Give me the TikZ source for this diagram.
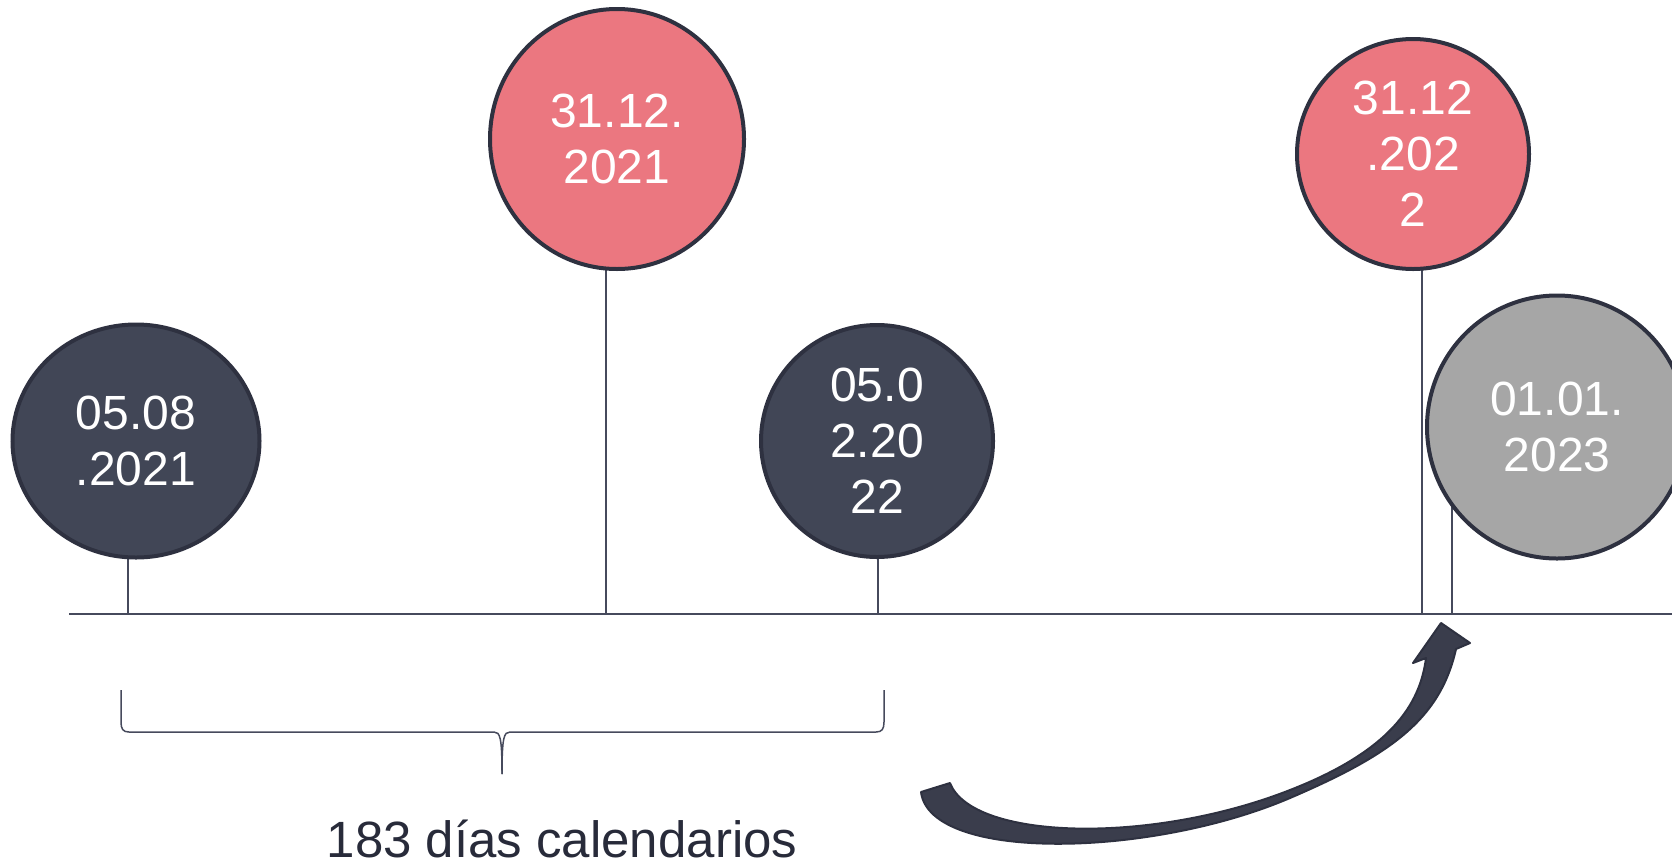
\documentclass[tikz,border=0pt]{standalone}
\usepackage{fontspec}
\setmainfont{Liberation Sans}
\usetikzlibrary{shapes.geometric,backgrounds}
\definecolor{navyfill}{RGB}{65,70,86}
\definecolor{pinkfill}{RGB}{235,119,128}
\definecolor{grayfill}{RGB}{166,166,166}
\definecolor{edgecol}{RGB}{46,49,64}
\definecolor{linecol}{RGB}{70,74,92}
\definecolor{arrowfill}{RGB}{58,61,76}
\definecolor{labelcol}{RGB}{40,43,58}

\begin{document}
\begin{tikzpicture}[x=1pt, y=-1pt,
  datebubble/.style={ellipse, draw=edgecol, line width=4pt, text=white, align=center, inner sep=0pt, font=\fontsize{48}{56}\selectfont},
  stem/.style={draw=linecol, line width=1.5pt}]
	\useasboundingbox (0,0) rectangle (1672,865);
	\clip (0,0) rectangle (1672,865);
	\coordinate (tl-l) at (69,614);
	\coordinate (tl-r) at (1672,614);
	\coordinate (s1) at (128,614);
	\coordinate (s2) at (606,614);
	\coordinate (s3) at (878,614);
	\coordinate (s4) at (1422,614);
	\coordinate (s5) at (1452,614);
	\draw[linecol, line width=2pt] (tl-l) -- (tl-r);
	\node[datebubble, fill=navyfill, minimum width=247, minimum height=233] (d1) at (136,441) {05.08\\.2021};
	\node[datebubble, fill=pinkfill, minimum width=254, minimum height=260] (d2) at (617,139) {31.12.\\2021};
	\node[datebubble, fill=navyfill, minimum width=232, minimum height=232] (d3) at (877,441) {05.0\\2.20\\22};
	\node[datebubble, fill=pinkfill, minimum width=232, minimum height=230] (d4) at (1413,154) {31.12\\.202\\2};
	\node[datebubble, fill=grayfill, minimum width=260, minimum height=263] (d5) at (1557,427) {01.01.\\2023};
	\begin{scope}[on background layer]
	\draw[stem] (s1) -- (s1 |- d1.center);
	\draw[stem] (s2) -- (s2 |- d2.center);
	\draw[stem] (s3) -- (s3 |- d3.center);
	\draw[stem] (s4) -- (s4 |- d4.center);
	\draw[stem] (s5) -- (s5 |- d5.center);
	\end{scope}
	\draw[linecol, line width=1.5pt] (121,690) -- (121,722) .. controls (121,729) and (123,732) .. (129,732) -- (494,732) .. controls (500,732) and (502,737) .. (502,774);
	\draw[linecol, line width=1.5pt] (884,690) -- (884,722) .. controls (884,729) and (882,732) .. (876,732) -- (510,732) .. controls (504,732) and (502,737) .. (502,774);
	\node[font=\fontsize{51}{60}\selectfont, text=labelcol, anchor=base] (span) at (562,857) {183 días calendarios};
	\draw[fill=arrowfill, draw=edgecol, line width=2pt, line join=round] (921,792) -- (950,783)
	  .. controls (972,840) and (1150,845) .. (1290,790)
	  .. controls (1390,751) and (1420,705) .. (1426,658)
	  -- (1413,663) -- (1441,623) -- (1470,643) -- (1456,649)
	  .. controls (1440,720) and (1390,755) .. (1290,798)
	  .. controls (1150,858) and (930,862) .. (921,792) -- cycle;
\end{tikzpicture}
\end{document}
